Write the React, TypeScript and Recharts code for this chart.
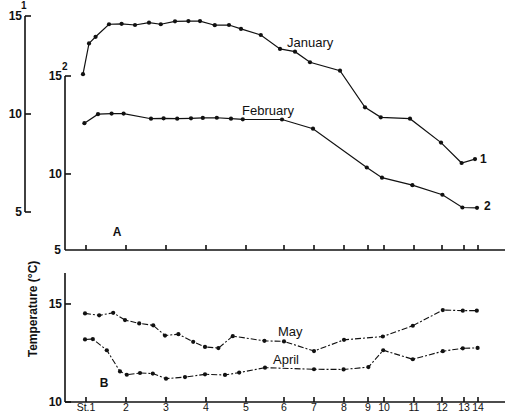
import React from "react";
import { LineChart, Line, XAxis, YAxis } from "recharts";

// stations along the section (distance, arbitrary units from St.1)
const STATIONS = ["St.1", "2", "3", "4", "5", "6", "7", "8", "9", "10", "11", "12", "13", "14"];
const STATION_POS = [0, 10, 20, 30, 40, 49.5, 57, 64.5, 70.5, 74.5, 82, 89, 94.5, 98];

// A: curve 1 (January) and curve 2 (February)
const JAN_POS = [-0.75, 0.75, 2.4, 5.75, 8.9, 12.25, 15.75, 18.7, 22.25, 25.6, 28.5, 32.2, 35.75, 38.75, 43.7, 48.5, 52.25, 56, 63.5, 69.75, 73.7, 81, 88.75, 93.9, 97.25];
const JAN_TEMP = [12.03, 13.6, 13.94, 14.58, 14.6, 14.54, 14.66, 14.58, 14.73, 14.74, 14.74, 14.53, 14.54, 14.34, 14.03, 13.32, 13.18, 12.64, 12.21, 10.34, 9.83, 9.76, 8.54, 7.5, 7.7];

const FEB_POS = [-0.4, 3, 6.4, 9.4, 16.25, 19.4, 22.8, 26.25, 29.2, 32.7, 36.25, 39.2, 49, 56.75, 70.2, 74, 81.6, 89.1, 94.1, 97.75];
const FEB_TEMP = [12.59, 13.05, 13.08, 13.08, 12.82, 12.84, 12.82, 12.84, 12.86, 12.87, 12.82, 12.79, 12.78, 12.31, 10.33, 9.81, 9.43, 8.94, 8.29, 8.27];

// B: April and May
const MAY_POS = [-0.25, 3.3, 6.8, 9.75, 13.3, 16.8, 19.75, 23.1, 26.8, 29.75, 33.1, 36.7, 44.6, 49.5, 57, 64.5, 74.2, 81.7, 89.2, 94.2, 97.7];
const MAY_TEMP = [14.52, 14.42, 14.55, 14.18, 14.01, 13.91, 13.39, 13.46, 13.07, 12.81, 12.75, 13.36, 13.12, 13.09, 12.6, 13.17, 13.34, 13.89, 14.69, 14.66, 14.66];

const APR_POS = [-0.25, 1.7, 5.2, 8.5, 10.2, 13.5, 16.7, 20, 24.75, 29.75, 34.75, 38.3, 44.75, 57, 64.4, 70.6, 74.3, 81.7, 89.2, 94.2, 97.9];
const APR_TEMP = [13.19, 13.21, 12.64, 11.56, 11.39, 11.48, 11.45, 11.19, 11.27, 11.41, 11.38, 11.5, 11.75, 11.67, 11.66, 11.78, 12.64, 12.18, 12.59, 12.74, 12.76];

const toPoints = (pos: number[], temp: number[]) =>
  pos.map((x, i) => ({ x, t: temp[i] }));

const jan = toPoints(JAN_POS, JAN_TEMP);
const feb = toPoints(FEB_POS, FEB_TEMP);
const may = toPoints(MAY_POS, MAY_TEMP);
const apr = toPoints(APR_POS, APR_TEMP);

const W = 507;
const H = 416;
const FONT = "'Liberation Sans', Arial, sans-serif";
const INK = "#111";

const tickStyle = { fontSize: 12, fill: INK, fontFamily: FONT, fontWeight: 700 };
const dot = { r: 2.1, fill: INK, stroke: INK, strokeWidth: 0 };
const layer: React.CSSProperties = { position: "absolute", left: 0, top: 0 };

export default function App() {
  return (
    <div
      style={{
        position: "absolute",
        left: 0,
        top: 0,
        width: W,
        height: H,
        background: "#fff",
      }}
    >
      {/* curve 1, own axis further left */}
      <div style={layer}>
        <LineChart
          width={W}
          height={H}
          data={jan}
          margin={{ top: 16, right: 2, left: 0, bottom: 204 }}
        >
          <XAxis
            dataKey="x"
            type="number"
            domain={[-15.25, 104.75]}
            allowDataOverflow
            hide
          />
          <YAxis
            type="number"
            domain={[5, 15]}
            ticks={[5, 10, 15]}
            allowDataOverflow
            width={25}
            stroke={INK}
            strokeWidth={1.6}
            tickSize={-6}
            tickMargin={9}
            tick={tickStyle}
          />
          <Line
            dataKey="t"
            stroke={INK}
            strokeWidth={1.2}
            dot={dot}
            isAnimationActive={false}
          />
        </LineChart>
      </div>

      {/* curve 2 + panel A axis */}
      <div style={layer}>
        <LineChart
          width={W}
          height={H}
          data={feb}
          margin={{ top: 76, right: 2, left: 25, bottom: 146 }}
        >
          <XAxis
            dataKey="x"
            type="number"
            domain={[-5.25, 104.75]}
            ticks={STATION_POS}
            interval={0}
            allowDataOverflow
            height={20}
            stroke={INK}
            strokeWidth={1.6}
            tickSize={-5}
            tickFormatter={() => ""}
          />
          <YAxis
            type="number"
            domain={[6.12, 15]}
            ticks={[10, 15]}
            allowDataOverflow
            width={40}
            stroke={INK}
            strokeWidth={1.6}
            tickSize={-6}
            tickMargin={9}
            tick={tickStyle}
          />
          <Line
            dataKey="t"
            stroke={INK}
            strokeWidth={1.2}
            dot={dot}
            isAnimationActive={false}
          />
        </LineChart>
      </div>

      {/* panel B */}
      <div style={layer}>
        <LineChart
          width={W}
          height={H}
          margin={{ top: 273, right: 2, left: 25, bottom: 0 }}
        >
          <XAxis
            dataKey="x"
            type="number"
            domain={[-5.25, 104.75]}
            ticks={STATION_POS}
            interval={0}
            allowDataOverflow
            height={14}
            stroke={INK}
            strokeWidth={1.6}
            tickSize={-5}
            tickMargin={7}
            tick={{ ...tickStyle, fontWeight: 400, fontSize: 10.5 }}
            tickFormatter={(v: number) => STATIONS[STATION_POS.indexOf(v)] ?? ""}
          />
          <YAxis
            type="number"
            domain={[10, 16.58]}
            ticks={[10, 15]}
            allowDataOverflow
            width={40}
            stroke={INK}
            strokeWidth={1.6}
            tickSize={-6}
            tickMargin={9}
            tick={tickStyle}
          />
          <Line
            data={may}
            dataKey="t"
            stroke={INK}
            strokeWidth={1.1}
            strokeDasharray="6 2 2 2"
            dot={dot}
            isAnimationActive={false}
          />
          <Line
            data={apr}
            dataKey="t"
            stroke={INK}
            strokeWidth={1.1}
            strokeDasharray="6 2 2 2"
            dot={dot}
            isAnimationActive={false}
          />
        </LineChart>
      </div>

      {/* annotations */}
      <svg width={W} height={H} style={{ ...layer, pointerEvents: "none" }}>
        <g fontFamily={FONT} fill={INK}>
          <text x={21} y={9} fontSize={10} fontWeight={700}>1</text>
          <text x={62} y={70} fontSize={10} fontWeight={700}>2</text>
          <text x={61} y={254} fontSize={12} fontWeight={700} textAnchor="end">5</text>
          <text x={117} y={236} fontSize={12} fontWeight={700} textAnchor="middle">A</text>
          <text x={104} y={387} fontSize={12} fontWeight={700} textAnchor="middle">B</text>
          <text x={287} y={47} fontSize={13}>January</text>
          <text x={242} y={115} fontSize={13}>February</text>
          <text x={480} y={163} fontSize={12} fontWeight={700}>1</text>
          <text x={484} y={210} fontSize={12} fontWeight={700}>2</text>
          <text x={278} y={336} fontSize={13}>May</text>
          <text x={273} y={364} fontSize={13}>April</text>
          <text
            x={0}
            y={0}
            fontSize={12}
            fontWeight={700}
            textAnchor="middle"
            transform="translate(37 309) rotate(-90)"
          >
            Temperature (°C)
          </text>
        </g>
      </svg>
    </div>
  );
}
